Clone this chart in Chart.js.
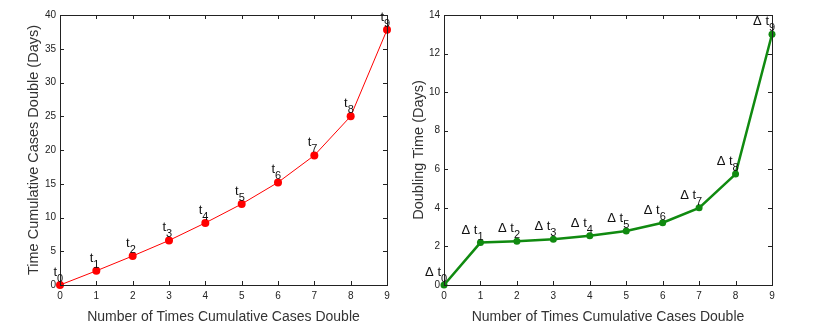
<!DOCTYPE html>
<html>
<head>
<meta charset="utf-8">
<script src="https://cdn.jsdelivr.net/npm/chart.js@4.4.0/dist/chart.umd.min.js"></script>
<style>
  body { margin: 0; background: #fff; }
  .box { position: absolute; top: 0; height: 326px; }
</style>
</head>
<body>
<div class="box" style="left:0;width:400px"><canvas id="left"></canvas></div>
<div class="box" style="left:400px;width:413px"><canvas id="right"></canvas></div>
<script>
const steps = [0, 1, 2, 3, 4, 5, 6, 7, 8, 9]
const cumulativeDays = [0, 2.1, 4.3, 6.6, 9.2, 12.0, 15.2, 19.2, 25.0, 37.8]
const doublingDays = [0, 2.2, 2.27, 2.37, 2.55, 2.8, 3.23, 4.0, 5.75, 13.0]
const leftTicks = [0, 5, 10, 15, 20, 25, 30, 35, 40]
const rightTicks = [0, 2, 4, 6, 8, 10, 12, 14]
const pointLabels = ['0', '1', '2', '3', '4', '5', '6', '7', '8', '9']

const font = '"Liberation Sans", Arial, sans-serif'

// frame with inward ticks, like the original plot
const framePlugin = {
  id: 'frame',
  afterDatasetsDraw(chart) {
    const ctx = chart.ctx
    const a = chart.chartArea
    const xs = chart.scales.x, ys = chart.scales.y
    ctx.save()
    ctx.strokeStyle = '#222'
    ctx.lineWidth = 1
    ctx.strokeRect(a.left + 0.5, a.top + 0.5, a.right - a.left, a.bottom - a.top)
    ctx.beginPath()
    xs.ticks.forEach(t => {
      const px = Math.round(xs.getPixelForValue(t.value)) + 0.5
      ctx.moveTo(px, a.bottom); ctx.lineTo(px, a.bottom - 4)
      ctx.moveTo(px, a.top); ctx.lineTo(px, a.top + 4)
    })
    ys.ticks.forEach(t => {
      const py = Math.round(ys.getPixelForValue(t.value)) + 0.5
      ctx.moveTo(a.left, py); ctx.lineTo(a.left + 4, py)
      ctx.moveTo(a.right, py); ctx.lineTo(a.right - 4, py)
    })
    ctx.stroke()
    ctx.restore()
  }
}

const labelPlugin = {
  id: 'tlabels',
  afterDatasetsDraw(chart, args, opts) {
    const ctx = chart.ctx
    const meta = chart.getDatasetMeta(0)
    ctx.save()
    ctx.fillStyle = '#111'
    ctx.textBaseline = 'alphabetic'
    meta.data.forEach((pt, i) => {
      const x = pt.x, y = pt.y
      ctx.font = '13px ' + font
      let txt = opts.delta ? '\u0394 t' : 't'
      const w = ctx.measureText(txt).width
      const left = x - w - 3
      ctx.textAlign = 'left'
      ctx.fillText(txt, left, y - 9)
      ctx.font = '11px ' + font
      ctx.fillText(pointLabels[i], left + w, y - 3)
    })
    ctx.restore()
  }
}

function makeChart(id, data, color, ticks, yMax, yTitle, opt) {
  return new Chart(document.getElementById(id), {
    type: 'line',
    data: {
      datasets: [{
        data: steps.map((s, i) => ({ x: s, y: data[i] })),
        borderColor: color,
        backgroundColor: color,
        borderWidth: opt.lineWidth,
        pointRadius: opt.pointRadius,
        pointBorderWidth: 0,
        tension: 0,
        clip: false
      }]
    },
    options: {
      responsive: true,
      maintainAspectRatio: false,
      animation: false,
      layout: { padding: { top: 15, right: opt.padRight, left: opt.padLeft, bottom: 0 } },
      plugins: {
        legend: { display: false },
        tooltip: { enabled: false },
        tlabels: { delta: opt.delta }
      },
      scales: {
        x: {
          type: 'linear', min: 0, max: 9,
          afterBuildTicks: s => { s.ticks = steps.map(v => ({ value: v })) },
          afterFit: s => { s.height = 41 },
          grid: { display: false, drawTicks: false },
          border: { display: false },
          ticks: { color: '#222', font: { family: font, size: 10 }, padding: 5, maxRotation: 0 },
          title: { display: true, text: 'Number of Times Cumulative Cases Double', color: '#333',
            font: { family: font, size: 14 }, padding: { top: 0, bottom: 0 } }
        },
        y: {
          type: 'linear', min: 0, max: yMax,
          afterBuildTicks: s => { s.ticks = ticks.map(v => ({ value: v })) },
          afterFit: s => { s.width = opt.yWidth },
          grid: { display: false, drawTicks: false },
          border: { display: false },
          ticks: { color: '#222', font: { family: font, size: 10 }, padding: 4 },
          title: { display: true, text: yTitle, color: '#333',
            font: { family: font, size: 14.5 }, padding: { top: 0, bottom: 2 } }
        }
      }
    },
    plugins: [framePlugin, labelPlugin]
  })
}

makeChart('left', cumulativeDays, '#ff0000', leftTicks, 40,
  'Time Cumulative Cases Double (Days)',
  { lineWidth: 1, pointRadius: 4, padRight: 13, padLeft: 25, yWidth: 35, delta: false })
makeChart('right', doublingDays, '#108a10', rightTicks, 14,
  'Doubling Time (Days)',
  { lineWidth: 2.5, pointRadius: 3.5, padRight: 41, padLeft: 10, yWidth: 34, delta: true })
</script>
</body>
</html>
